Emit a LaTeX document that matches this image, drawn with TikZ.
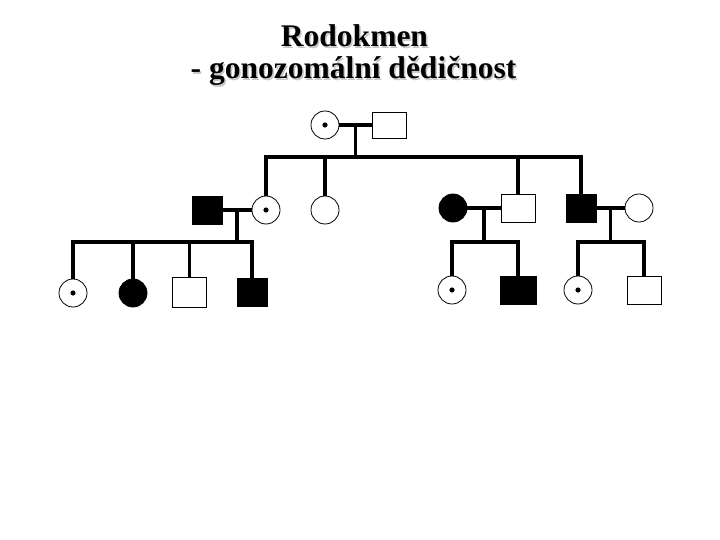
\documentclass[tikz,border=0pt]{standalone}
\usepackage{fontspec}
\setmainfont{Liberation Serif}
\usetikzlibrary{calc,positioning}

\begin{document}
\begin{tikzpicture}[x=1pt,y=-1pt,
  female/.style={circle,draw,line width=0.8pt,minimum size=28pt,inner sep=0pt},
  male/.style={rectangle,draw,line width=0.8pt,minimum width=34pt,minimum height=28pt,inner sep=0pt},
  affm/.style={male,fill=black,minimum width=30pt},
  afff/.style={female,fill=black},
  carrier/.style={female,path picture={\fill (path picture bounding box.center) circle (2.6pt);}},
  link/.style={line width=3.2pt},
  title/.style={font=\fontsize{31.5}{33}\selectfont\bfseries,anchor=base,inner sep=0pt}]
  \useasboundingbox (0,0) rectangle (720,540);
  \node[title,gray!45] (t1s) at (356,48.5) {Rodokmen};
  \node[title,gray!45] (t2s) at (355,80.5) {- gonozomální dědičnost};
  \node[title] (t1) at (354.5,47) {Rodokmen};
  \node[title] (t2) at (353.5,79) {- gonozomální dědičnost};

  \node[carrier] (g1f) at (325,125) {};
  \node[male,minimum height=26pt] (g1m) at (389,125) {};

  \node[affm] (g2a) at (207,210) {};
  \node[carrier] (g2b) at (266,210) {};
  \node[female] (g2c) at (325,210) {};
  \node[afff] (g2d) at (453,208) {};
  \node[male] (g2e) at (518,208) {};
  \node[affm] (g2f) at (581,208) {};
  \node[female] (g2g) at (639,208) {};

  \node[carrier] (g3a) at (73,293) {};
  \node[afff] (g3b) at (133,293) {};
  \node[male,minimum height=30pt] (g3c) at (189.5,292) {};
  \node[affm] (g3d) at (252,292) {};
  \node[carrier] (g3e) at (452,290) {};
  \node[affm,minimum width=36pt] (g3f) at (518,290) {};
  \node[carrier] (g3g) at (578,290) {};
  \node[male] (g3h) at (644,290) {};

  \draw[link] (g1f) -- (g1m);
  \coordinate (m1) at ($(g1f.east)!0.5!(g1m.west)$);
  \coordinate (s1) at (m1 |- 0,157);
  \draw[link] (m1) -- (s1);
  \draw[link] (g2b.north) -- (g2b.north |- s1) -- (g2f.north |- s1) -- (g2f.north);
  \foreach \c in {g2c,g2e}
    \draw[link] (\c.north) -- (\c.north |- s1);

  \draw[link] (g2a) -- (g2b);
  \coordinate (m2) at ($(g2a.east)!0.5!(g2b.west)$);
  \coordinate (s2) at (m2 |- 0,242);
  \draw[link] (m2) -- (s2);
  \draw[link] (g3a.north) -- (g3a.north |- s2) -- (g3d.north |- s2) -- (g3d.north);
  \foreach \c in {g3b,g3c}
    \draw[link] (\c.north) -- (\c.north |- s2);

  \draw[link] (g2d) -- (g2e);
  \coordinate (m3) at ($(g2d.east)!0.5!(g2e.west)$);
  \coordinate (s3) at (m3 |- 0,242);
  \draw[link] (m3) -- (s3);
  \draw[link] (g3e.north) -- (g3e.north |- s3) -- (g3f.north |- s3) -- (g3f.north);

  \draw[link] (g2f) -- (g2g);
  \coordinate (m4) at ($(g2f.east)!0.5!(g2g.west)$);
  \coordinate (s4) at (m4 |- 0,242);
  \draw[link] (m4) -- (s4);
  \draw[link] (g3g.north) -- (g3g.north |- s4) -- (g3h.north |- s4) -- (g3h.north);
\end{tikzpicture}
\end{document}
